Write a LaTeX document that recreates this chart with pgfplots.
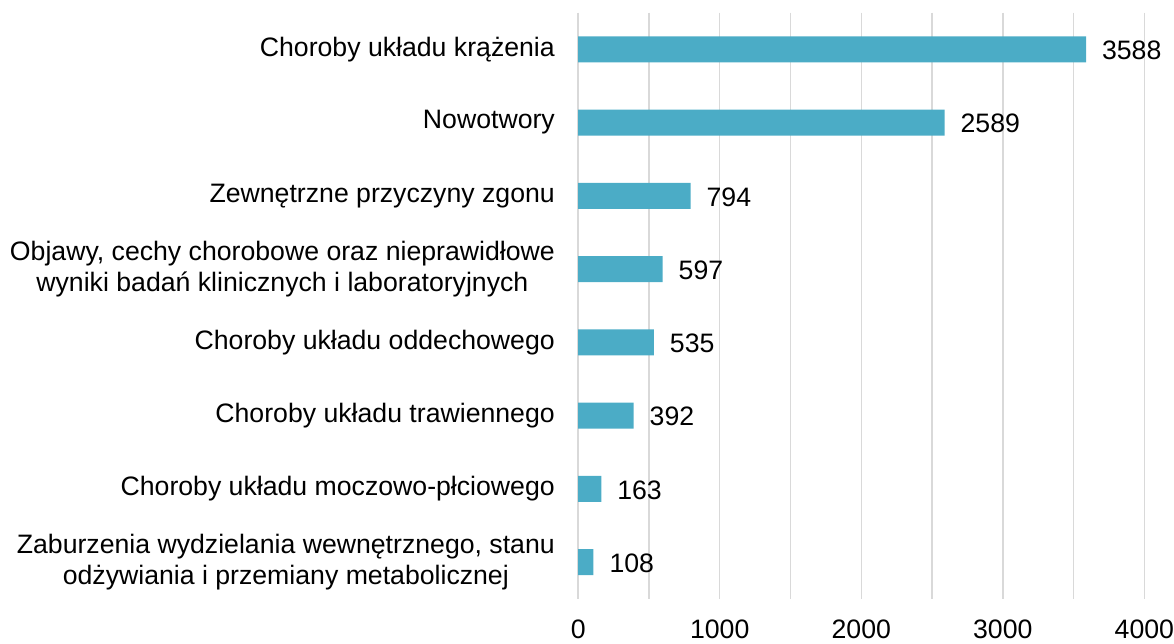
\documentclass[border=0pt]{standalone}
\usepackage{fontspec}
\setmainfont{Liberation Sans}
\usepackage{pgfplots}
\pgfplotsset{compat=1.18}
\definecolor{barteal}{HTML}{4BACC6}
\definecolor{gridgray}{HTML}{D9D9D9}

\begin{document}
\begin{tikzpicture}
\begin{axis}[
  name=ax,
  scale only axis, width=283.5pt, height=293.5pt,
  xbar, bar width=13pt,
  xmin=0, xmax=4000, ymin=-0.5, ymax=7.5, y dir=reverse,
  xtick={0,1000,2000,3000,4000}, minor x tick num=1,
  xmajorgrids, xminorgrids,
  grid style={gridgray, line width=0.75pt},
  minor grid style={gridgray, line width=0.75pt},
  axis line style={draw=none},
  major tick length=0pt, minor tick length=0pt,
  ytick={0,...,7},
  yticklabels={
    Choroby układu krążenia,
    Nowotwory,
    Zewnętrzne przyczyny zgonu,
    {Objawy, cechy chorobowe oraz nieprawidłowe\\wyniki badań klinicznych i laboratoryjnych},
    Choroby układu oddechowego,
    Choroby układu trawiennego,
    Choroby układu moczowo-płciowego,
    {Zaburzenia wydzielania wewnętrznego, stanu\\odżywiania i przemiany metabolicznej}
  },
  yticklabel style={align=center, font=\fontsize{13.35}{15.5}\selectfont, inner sep=0pt, xshift=-11.5pt},
  xticklabel style={font=\fontsize{13.35}{15.5}\selectfont, inner sep=0pt, yshift=-10.5pt},
  nodes near coords,
  nodes near coords style={font=\fontsize{13.35}{15.5}\selectfont, black, xshift=4.5pt, yshift=-0.5pt},
  /pgf/number format/assume math mode=true,
  /pgf/number format/1000 sep={},
]
\addplot[fill=barteal, draw=none] coordinates
  {(3588,0) (2589,1) (794,2) (597,3) (535,4) (392,5) (163,6) (108,7)};
\end{axis}
\path ([yshift=6.35pt]ax.north) ([xshift=-5pt]ax.outer west) ([yshift=-2pt]ax.outer south);
\end{tikzpicture}
\end{document}
